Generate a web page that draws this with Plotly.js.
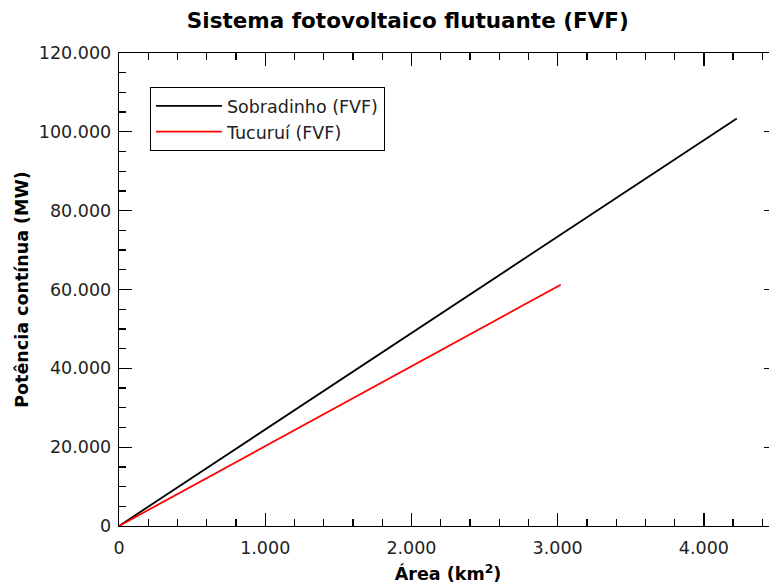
<!DOCTYPE html>
<html>
<head>
<meta charset="utf-8">
<script src="https://cdn.plot.ly/plotly-3.0.1.min.js"></script>
<style>
html,body{margin:0;padding:0;overflow:hidden;background:#fff;}
#chart{width:790px;height:586px;}
</style>
</head>
<body>
<div id="chart"></div>
<script>
// Area (km²) and continuous power (MW)
const sobradinhoArea = [0, 1000, 2000, 3000, 4000, 4225];
const sobradinhoPower = [0, 24500, 49000, 73400, 97900, 103400];
const tucuruiArea = [0, 1000, 2000, 3000, 3021];
const tucuruiPower = [0, 20300, 40500, 60800, 61200];
const seriesNames = ['Sobradinho (FVF)', 'Tucuruí (FVF)'];
const xTickVals = [0, 1000, 2000, 3000, 4000];
const yTickVals = [0, 20000, 40000, 60000, 80000, 100000, 120000];

const FONT = 'DejaVu Sans, Verdana, sans-serif';

const traces = [
  {x: sobradinhoArea, y: sobradinhoPower, name: seriesNames[0], mode: 'lines',
   line: {color: '#000000', width: 1.8}},
  {x: tucuruiArea, y: tucuruiPower, name: seriesNames[1], mode: 'lines',
   line: {color: '#ff0000', width: 1.8}}
];

const axisCommon = {
  showline: true, linecolor: '#000', linewidth: 1.3,
  mirror: 'ticks', ticks: 'inside', ticklen: 13, tickwidth: 1.3, tickcolor: '#000',
  showgrid: false, zeroline: false, separatethousands: true,
  tickfont: {family: FONT, size: 17.5, color: '#222'}
};

const layout = {
  width: 790, height: 586,
  margin: {l: 119, r: 13, t: 53, b: 60},
  paper_bgcolor: '#fff', plot_bgcolor: '#fff',
  separators: ',.',
  showlegend: true,
  title: {text: 'Sistema fotovoltaico flutuante (FVF)', xref: 'paper', x: 0.439, xanchor: 'center',
          yref: 'container', y: 0.965, yanchor: 'middle',
          font: {family: FONT, size: 21.5, weight: 'bold', color: '#000'}},
  xaxis: Object.assign({}, axisCommon, {
    range: [0, 4500], tickvals: xTickVals, tickformat: ',d',
    ticklabelstandoff: 6,
    minor: {dtick: 200, ticks: 'inside', ticklen: 7, tickwidth: 1.3, tickcolor: '#000'},
    title: {text: 'Área (km<sup>2</sup>)', standoff: 10,
            font: {family: FONT, size: 17.5, weight: 'bold', color: '#000'}}
  }),
  yaxis: Object.assign({}, axisCommon, {
    range: [0, 120000], tickvals: yTickVals, tickformat: ',d',
    ticklabelstandoff: 3,
    minor: {dtick: 5000, ticks: 'inside', ticklen: 7, tickwidth: 1.3, tickcolor: '#000'},
    title: {text: 'Potência contínua (MW)', standoff: 5,
            font: {family: FONT, size: 17.5, weight: 'bold', color: '#000'}}
  }),
  legend: {x: 0.047, y: 0.928, xanchor: 'left', yanchor: 'top',
           bordercolor: '#000', borderwidth: 1, bgcolor: '#fff',
           itemwidth: 66, tracegroupgap: 0,
           font: {family: FONT, size: 17.5, color: '#222'}}
};

Plotly.newPlot('chart', traces, layout, {displayModeBar: false, staticPlot: true});
</script>
</body>
</html>
